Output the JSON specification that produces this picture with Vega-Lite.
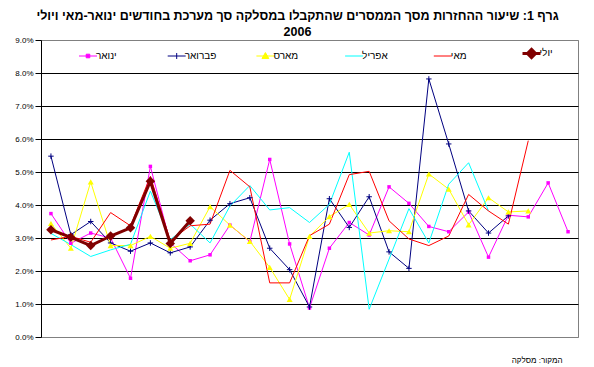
{
  "$schema": "https://vega.github.io/schema/vega-lite/v6.json",
  "width": 537,
  "height": 297,
  "autosize": {"type": "none"},
  "padding": {"left": 41, "top": 40, "right": 16, "bottom": 30},
  "background": "white",
  "config": {
    "font": "Liberation Sans",
    "view": {"stroke": "#808080", "strokeWidth": 1},
    "title": {"font": "Liberation Sans"}
  },
  "title": {
    "text": ["גרף 1: שיעור ההחזרות מסך הממסרים שהתקבלו במסלקה סך מערכת בחודשים ינואר-מאי ויולי", "2006"],
    "fontSize": 12.5,
    "fontWeight": "bold",
    "color": "black",
    "anchor": "middle",
    "frame": "group",
    "dx": -12,
    "offset": -2,
    "lineHeight": 16
  },
  "datasets": {
    "rates": [
      {"series": "ינואר", "day": 0, "value": 3.74}, {"series": "ינואר", "day": 1, "value": 2.84}, {"series": "ינואר", "day": 2, "value": 3.15}, {"series": "ינואר", "day": 3, "value": 3.0}, {"series": "ינואר", "day": 4, "value": 1.78}, {"series": "ינואר", "day": 5, "value": 5.17}, {"series": "ינואר", "day": 6, "value": 2.85}, {"series": "ינואר", "day": 7, "value": 2.31}, {"series": "ינואר", "day": 8, "value": 2.49}, {"series": "ינואר", "day": 9, "value": 3.39}, {"series": "ינואר", "day": 10, "value": 2.89}, {"series": "ינואר", "day": 11, "value": 5.38}, {"series": "ינואר", "day": 12, "value": 2.82}, {"series": "ינואר", "day": 13, "value": 0.88}, {"series": "ינואר", "day": 14, "value": 2.69}, {"series": "ינואר", "day": 15, "value": 3.47}, {"series": "ינואר", "day": 16, "value": 3.09}, {"series": "ינואר", "day": 17, "value": 4.55}, {"series": "ינואר", "day": 18, "value": 4.05}, {"series": "ינואר", "day": 19, "value": 3.35}, {"series": "ינואר", "day": 20, "value": 3.19}, {"series": "ינואר", "day": 21, "value": 3.79}, {"series": "ינואר", "day": 22, "value": 2.42}, {"series": "ינואר", "day": 23, "value": 3.69}, {"series": "ינואר", "day": 24, "value": 3.64}, {"series": "ינואר", "day": 25, "value": 4.67}, {"series": "ינואר", "day": 26, "value": 3.19},
      {"series": "פברואר", "day": 0, "value": 5.48}, {"series": "פברואר", "day": 1, "value": 3.10}, {"series": "פברואר", "day": 2, "value": 3.50}, {"series": "פברואר", "day": 3, "value": 2.85}, {"series": "פברואר", "day": 4, "value": 2.60}, {"series": "פברואר", "day": 5, "value": 2.85}, {"series": "פברואר", "day": 6, "value": 2.55}, {"series": "פברואר", "day": 7, "value": 2.73}, {"series": "פברואר", "day": 8, "value": 3.54}, {"series": "פברואר", "day": 9, "value": 4.04}, {"series": "פברואר", "day": 10, "value": 4.22}, {"series": "פברואר", "day": 11, "value": 2.69}, {"series": "פברואר", "day": 12, "value": 2.04}, {"series": "פברואר", "day": 13, "value": 0.91}, {"series": "פברואר", "day": 14, "value": 4.19}, {"series": "פברואר", "day": 15, "value": 3.32}, {"series": "פברואר", "day": 16, "value": 4.25}, {"series": "פברואר", "day": 17, "value": 2.58}, {"series": "פברואר", "day": 18, "value": 2.08}, {"series": "פברואר", "day": 19, "value": 7.82}, {"series": "פברואר", "day": 20, "value": 5.85}, {"series": "פברואר", "day": 21, "value": 3.82}, {"series": "פברואר", "day": 22, "value": 3.15}, {"series": "פברואר", "day": 23, "value": 3.67},
      {"series": "מארס", "day": 0, "value": 3.44}, {"series": "מארס", "day": 1, "value": 2.69}, {"series": "מארס", "day": 2, "value": 4.70}, {"series": "מארס", "day": 3, "value": 2.77}, {"series": "מארס", "day": 4, "value": 2.77}, {"series": "מארס", "day": 5, "value": 3.05}, {"series": "מארס", "day": 6, "value": 2.69}, {"series": "מארס", "day": 7, "value": 2.84}, {"series": "מארס", "day": 8, "value": 3.95}, {"series": "מארס", "day": 9, "value": 3.39}, {"series": "מארס", "day": 10, "value": 2.90}, {"series": "מארס", "day": 11, "value": 2.11}, {"series": "מארס", "day": 12, "value": 1.14}, {"series": "מארס", "day": 13, "value": 3.05}, {"series": "מארס", "day": 14, "value": 3.65}, {"series": "מארס", "day": 15, "value": 4.02}, {"series": "מארס", "day": 16, "value": 3.15}, {"series": "מארס", "day": 17, "value": 3.22}, {"series": "מארס", "day": 18, "value": 3.19}, {"series": "מארס", "day": 19, "value": 4.94}, {"series": "מארס", "day": 20, "value": 4.48}, {"series": "מארס", "day": 21, "value": 3.40}, {"series": "מארס", "day": 22, "value": 4.22}, {"series": "מארס", "day": 23, "value": 3.79}, {"series": "מארס", "day": 24, "value": 3.82},
      {"series": "אפריל", "day": 0, "value": 3.14}, {"series": "אפריל", "day": 1, "value": 2.80}, {"series": "אפריל", "day": 2, "value": 2.44}, {"series": "אפריל", "day": 3, "value": 2.64}, {"series": "אפריל", "day": 4, "value": 2.81}, {"series": "אפריל", "day": 5, "value": 4.42}, {"series": "אפריל", "day": 6, "value": 2.95}, {"series": "אפריל", "day": 7, "value": 3.42}, {"series": "אפריל", "day": 8, "value": 2.85}, {"series": "אפריל", "day": 9, "value": 3.97}, {"series": "אפריל", "day": 10, "value": 4.59}, {"series": "אפריל", "day": 11, "value": 3.85}, {"series": "אפריל", "day": 12, "value": 3.92}, {"series": "אפריל", "day": 13, "value": 3.47}, {"series": "אפריל", "day": 14, "value": 4.02}, {"series": "אפריל", "day": 15, "value": 5.60}, {"series": "אפריל", "day": 16, "value": 0.84}, {"series": "אפריל", "day": 17, "value": 2.36}, {"series": "אפריל", "day": 18, "value": 3.89}, {"series": "אפריל", "day": 19, "value": 2.85}, {"series": "אפריל", "day": 20, "value": 4.63}, {"series": "אפריל", "day": 21, "value": 5.28}, {"series": "אפריל", "day": 22, "value": 3.82},
      {"series": "מאי", "day": 0, "value": 2.94}, {"series": "מאי", "day": 1, "value": 3.05}, {"series": "מאי", "day": 2, "value": 2.87}, {"series": "מאי", "day": 3, "value": 3.77}, {"series": "מאי", "day": 4, "value": 3.37}, {"series": "מאי", "day": 5, "value": 4.87}, {"series": "מאי", "day": 6, "value": 2.92}, {"series": "מאי", "day": 7, "value": 3.37}, {"series": "מאי", "day": 8, "value": 3.42}, {"series": "מאי", "day": 9, "value": 5.05}, {"series": "מאי", "day": 10, "value": 4.55}, {"series": "מאי", "day": 11, "value": 1.64}, {"series": "מאי", "day": 12, "value": 1.64}, {"series": "מאי", "day": 13, "value": 3.07}, {"series": "מאי", "day": 14, "value": 3.42}, {"series": "מאי", "day": 15, "value": 4.92}, {"series": "מאי", "day": 16, "value": 5.02}, {"series": "מאי", "day": 17, "value": 3.52}, {"series": "מאי", "day": 18, "value": 2.97}, {"series": "מאי", "day": 19, "value": 2.77}, {"series": "מאי", "day": 20, "value": 3.06}, {"series": "מאי", "day": 21, "value": 4.32}, {"series": "מאי", "day": 22, "value": 3.82}, {"series": "מאי", "day": 23, "value": 3.42}, {"series": "מאי", "day": 24, "value": 5.95},
      {"series": "יולי", "day": 0, "value": 3.25}, {"series": "יולי", "day": 1, "value": 3.02}, {"series": "יולי", "day": 2, "value": 2.77}, {"series": "יולי", "day": 3, "value": 3.06}, {"series": "יולי", "day": 4, "value": 3.31}, {"series": "יולי", "day": 5, "value": 4.72}, {"series": "יולי", "day": 6, "value": 2.83}, {"series": "יולי", "day": 7, "value": 3.52}
    ]
  },
  "data": {"name": "rates"},
  "encoding": {
    "x": {
      "field": "day",
      "type": "quantitative",
      "scale": {"domain": [-0.5, 26.5], "nice": false, "zero": false},
      "axis": {
        "title": "המקור: מסלקה",
        "titleAnchor": "end",
        "titleAlign": "right",
        "titleX": 521,
        "titleFontSize": 8,
        "titleFontWeight": "normal",
        "titleColor": "black",
        "titlePadding": 19,
        "labels": false,
        "ticks": false,
        "domain": false,
        "grid": false
      }
    },
    "y": {
      "field": "value",
      "type": "quantitative",
      "scale": {"domain": [0, 9], "nice": false, "zero": true},
      "axis": {
        "title": null,
        "values": [0, 1, 2, 3, 4, 5, 6, 7, 8, 9],
        "labelExpr": "format(datum.value, '.1f') + '%'",
        "labelFontSize": 8,
        "labelColor": "black",
        "labelPadding": 2,
        "tickSize": 6,
        "tickColor": "black",
        "domainColor": "black",
        "grid": true,
        "gridColor": {"condition": {"test": "datum.value == 0 || datum.value == 9", "value": "#808080"}, "value": "black"},
        "gridOpacity": 1,
        "gridWidth": 1
      }
    },
    "color": {
      "field": "series",
      "type": "nominal",
      "scale": {
        "domain": ["ינואר", "פברואר", "מארס", "אפריל", "מאי", "יולי"],
        "range": ["#FF00FF", "#000080", "#FFFF00", "#00FFFF", "#FF0000", "#800000"]
      },
      "legend": {
        "orient": "none",
        "legendX": 42,
        "legendY": 8,
        "direction": "horizontal",
        "columns": 6,
        "title": null,
        "padding": 0,
        "gridAlign": "all",
        "columnPadding": 33.7,
        "labelFont": "Liberation Sans",
        "labelFontSize": 10,
        "labelColor": "black",
        "labelOffset": 3,
        "symbolSize": 324,
        "symbolOpacity": 1,
        "encode": {
          "symbols": {
            "update": {
              "shape": {"signal": "datum.value === 'ינואר' ? 'M-1,0H1M-0.2,-0.2H0.2V0.2H-0.2Z' : datum.value === 'פברואר' ? 'M-1,0H1M0,-0.33V0.33' : datum.value === 'מארס' ? 'M-1,0H1M0,-0.38L0.38,0.28H-0.38Z' : datum.value === 'יולי' ? 'M-1,0H1M0,-0.45L0.45,0L0,0.45L-0.45,0Z' : 'M-1,0H1'"},
              "fill": {"scale": "color", "field": "value"},
              "stroke": {"scale": "color", "field": "value"},
              "strokeWidth": {"signal": "datum.value === 'יולי' ? 3 : 1"},
              "opacity": {"value": 1},
              "size": {"value": 324}
            }
          }
        }
      }
    }
  },
  "layer": [
    {
      "transform": [{"filter": "datum.series !== 'יולי'"}],
      "mark": {"type": "line", "strokeWidth": 1}
    },
    {
      "transform": [{"filter": "datum.series === 'ינואר'"}],
      "mark": {"type": "point", "filled": true, "shape": "square", "size": 12, "opacity": 1}
    },
    {
      "transform": [{"filter": "datum.series === 'פברואר'"}],
      "mark": {"type": "point", "filled": false, "shape": "M-1,0H1M0,-1V1", "size": 30, "strokeWidth": 1, "opacity": 1}
    },
    {
      "transform": [{"filter": "datum.series === 'מארס'"}],
      "mark": {"type": "point", "filled": true, "shape": "triangle-up", "size": 36, "opacity": 1}
    },
    {
      "transform": [{"filter": "datum.series === 'יולי'"}],
      "mark": {"type": "line", "strokeWidth": 3}
    },
    {
      "transform": [{"filter": "datum.series === 'יולי'"}],
      "mark": {"type": "point", "filled": true, "shape": "diamond", "size": 90, "opacity": 1}
    }
  ]
}
